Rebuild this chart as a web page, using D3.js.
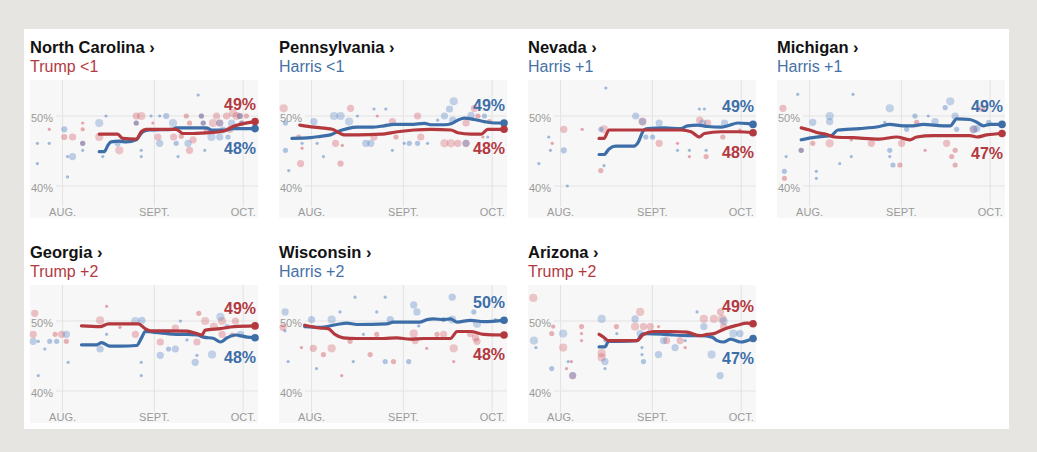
<!DOCTYPE html>
<html><head><meta charset="utf-8">
<script src="https://cdn.jsdelivr.net/npm/d3@7"></script>
<style>
html,body{margin:0;padding:0;background:#e6e5e2;}
svg{display:block;font-family:"Liberation Sans",Arial,sans-serif;}
</style></head>
<body><svg id="chart" width="1037" height="452"></svg>
<script>
// ---------- data ----------
const stateNames = ["North Carolina","Pennsylvania","Nevada","Michigan","Georgia","Wisconsin","Arizona"];
const leadText = ["Trump <1","Harris <1","Harris +1","Harris +1","Trump +2","Harris +2","Trump +2"];
const leadParty = ["R","D","D","D","R","D","R"];
const trumpEndLabels = ["49%","48%","48%","47%","49%","48%","49%"];
const harrisEndLabels = ["48%","49%","49%","49%","48%","50%","47%"];
const xTickLabels = ["AUG.","SEPT.","OCT."];
const xTickDates = ["2024-08-01","2024-09-01","2024-10-01"];
const yTickValues = [40,50];
const yTickLabels = ["40%","50%"];
const baseDate = "2024-08-01"; // day offsets below are days after Aug 1
const xDomain = ["2024-07-21","2024-10-06"];

// polling averages: [day offset, percent]
const ncTrumpAvg = [[12.4,47.4],[18.6,47.4],[20.3,46.8],[24.9,46.7],[26.6,47.75],[28.2,48.1],[38.4,48.1],[40.7,47.5],[42.9,47.5],[48.6,47.6],[53.1,47.75],[55.4,48.0],[57.6,48.5],[61,48.9],[63.3,49.1],[65,49.2]];
const ncHarrisAvg = [[12.4,44.9],[14.1,44.9],[15.3,45.8],[16.4,46.3],[19.2,46.4],[21.5,46.3],[24.9,46.6],[27.1,47.75],[29.4,48.0],[37.3,48.1],[38.4,48.3],[48.6,48.3],[50.3,48.0],[55.4,48.0],[57.6,48.2],[62.1,48.2],[65,48.2]];
const paTrumpAvg = [[-4,48.7],[0.8,48.4],[7.0,48.1],[9.3,47.6],[11,47.3],[15.5,47.3],[23.4,47.4],[29,47.75],[34.7,48.0],[40.3,48.1],[47.1,48.0],[49.4,47.6],[53.9,47.4],[57.3,47.4],[59.5,48.1],[65,48.1]];
const paHarrisAvg = [[-6.6,46.8],[-0.3,46.9],[3.1,47.1],[6.4,47.3],[8.7,47.75],[12.1,48.2],[15.5,48.4],[20,48.4],[24.5,48.6],[27.9,48.8],[33.6,48.8],[38.1,48.95],[40.3,48.75],[44.9,48.75],[47.1,48.9],[49.4,49.4],[51.6,49.7],[55,49.5],[58.4,49.2],[61.8,49.0],[65,49.0]];
const nvTrumpAvg = [[13,46.8],[14.7,46.8],[16.4,48.0],[28.2,48.0],[40.7,48.0],[44.1,47.75],[46.9,47.0],[48.6,47.5],[54.2,47.75],[59.9,47.75],[65,47.6]];
const nvHarrisAvg = [[13,44.5],[14.7,44.5],[16.4,45.3],[18.6,45.7],[24.9,45.7],[26,46.1],[28.2,48.0],[29.4,48.2],[35,48.3],[40.7,48.2],[42.9,48.6],[46.3,48.7],[49.7,48.5],[54.2,48.4],[56.5,48.6],[59.9,49.0],[63.3,48.9],[65,48.8]];
const miTrumpAvg = [[-2.8,48.3],[0,48.0],[2.8,47.6],[5.6,47.4],[8.5,47.0],[14.7,46.9],[23.7,46.7],[29.4,47.0],[33.9,46.6],[36.2,47.0],[41.8,47.2],[48.6,47.2],[54.2,47.2],[56.5,47.0],[59.9,47.3],[65,47.5]];
const miHarrisAvg = [[-2.8,46.6],[1.1,46.9],[4.5,47.1],[7.3,47.2],[9.6,48.0],[16.9,48.2],[23.7,48.5],[27.1,48.8],[31.6,48.6],[34.9,48.6],[38.4,48.8],[45.2,48.6],[47.5,48.6],[49.7,49.6],[54.2,49.5],[56.5,49.1],[58.8,48.6],[61,48.8],[65,48.8]];
const gaTrumpAvg = [[6.4,49.3],[12.7,49.2],[15.5,49.6],[25.6,49.6],[27.9,48.9],[29.6,48.6],[35.3,48.6],[42,48.55],[45.4,48.2],[47.1,48.0],[48.2,48.7],[53.3,48.9],[57.9,49.2],[65,49.3]];
const gaHarrisAvg = [[6.4,46.6],[11.5,46.6],[13.2,46.9],[16,46.4],[19.4,46.4],[25,46.5],[26.8,47.7],[27.9,48.5],[33,48.3],[38.6,48.1],[42,48.1],[45.4,48.0],[47.7,47.7],[51.1,47.5],[53.3,47.0],[55.6,47.6],[58.4,48.0],[62.4,47.7],[65,47.6]];
const wiTrumpAvg = [[-2.3,49.4],[2.8,49.0],[5.6,48.9],[7.9,48.1],[10.7,47.6],[15.3,47.5],[24.3,47.5],[28.8,47.6],[33.3,47.4],[37.9,47.5],[42.4,47.5],[46.9,47.5],[49.2,48.5],[53.7,48.5],[58.2,48.1],[65,48.0]];
const wiHarrisAvg = [[-2.3,49.2],[2.8,49.1],[8.5,49.5],[11.9,49.7],[15.3,49.5],[25.4,49.6],[27.7,49.85],[36.7,49.85],[39,50.2],[41.2,50.3],[44.6,50.2],[46.9,50.3],[49.2,49.85],[53.7,50.1],[58.2,49.9],[65,50.1]];
const azTrumpAvg = [[13,48.1],[14.5,47.7],[16.2,47.2],[20.1,47.2],[25.8,47.2],[28,48.1],[31.4,48.5],[37.1,48.5],[42.7,48.4],[47.2,47.9],[49.5,48.1],[51.8,48.2],[54,48.6],[56.3,49.0],[59.7,49.4],[63,49.7],[65,49.6]];
const azHarrisAvg = [[13,46.3],[15,46.3],[16.2,47.1],[20.1,47.1],[25.8,47.2],[27.5,48.1],[29.2,48.2],[34.8,48.1],[38.2,48.0],[42.7,47.9],[47.2,47.9],[51.2,47.7],[52.9,47.2],[55.1,47.0],[57.4,47.4],[60.8,47.0],[65,47.5]];

// individual polls: [day offset, percent, relative sample weight]
const ncTrumpPolls = [[-4.5,48.1,1],[0.6,47.0,2.5],[3.4,47.0,3],[6.8,49.0,1],[6.8,48.1,1.5],[12.4,47.0,3.5],[19.2,45.1,3.5],[24.9,50,3],[26.6,50,3.5],[30.5,49,1],[32.2,47,3],[37.5,47,3],[40.1,47.1,2],[41.8,50,2],[42.9,49,2],[42.9,45.1,3],[44.1,46.6,3],[48.6,48,2],[50.8,49,3.5],[52,50,3],[55.4,50,3],[56.5,48.1,3],[57.6,50.4,3.5],[58.8,50,3.5],[62.1,50,2],[6.8,46.1,2],[24.9,49,2],[46.9,50,2],[47.5,49,2],[53.1,49,3],[59.9,50,2.5],[60.5,49,2]];
const ncHarrisPolls = [[-8.5,46.1,1],[-8.5,43.2,1],[-4.5,46.1,1],[0.6,48.1,2.5],[1.7,41.3,1],[3.4,44.2,3],[1.7,44.2,1],[6.8,45.1,1],[12.4,49,3.5],[14.7,50,1],[13.6,44.2,1],[18.6,46.1,2.5],[26.6,44.2,1],[26.6,45.1,1],[29.9,50,1],[32.8,50,1],[32.8,46.1,3],[35,50,2.5],[37.3,49,3.5],[38.4,46.1,2],[39,44.2,1],[42.4,46.1,3],[45.8,53,1],[48,45.1,1],[50.3,47,3.5],[54.2,48,3],[55.9,47,2],[57.1,49,3],[53.1,47,3],[6.8,46.1,2],[24.9,49,2],[46.9,50,2],[47.5,49,2],[53.1,49,3],[59.9,50,2.5],[60.5,49,2]];
const paTrumpPolls = [[-9.4,51.1,3.5],[-4.3,47.0,2],[-3.2,45.4,1],[-3.7,43.2,3],[13.2,51.1,3],[9.8,43.2,2.5],[8.1,46.1,3],[10.4,45.8,1],[21.1,47.0,3],[22.2,50,1],[27.3,49.2,3],[35.8,50,3],[28.5,47,2],[44.9,46.1,3.5],[47.1,46.1,3.5],[49.4,46.1,3],[55,51.1,3],[56.2,50,2],[52.2,49,3],[57.9,47,1],[60.1,49.2,2],[36.9,47.0,3],[52.2,46.1,3]];
const paHarrisPolls = [[-8.8,49,2],[-8.8,45.1,2],[-7.7,42.2,1],[0.8,49.2,3],[1.9,46.1,1],[7.6,50,3.5],[9.8,50,3.5],[12.7,49.2,3.5],[15.5,50,1],[21.1,51,1],[20,46.1,3],[18.3,46.1,3],[25.1,51,1],[27.3,45.1,1],[31.3,46.1,1],[33,46.1,2],[35.8,46.1,2],[39.2,46.1,1],[44.9,50,3],[46.6,51,3],[48,52.1,3.5],[47.7,49.4,3],[42.6,49.4,1],[52.2,46.1,3],[53.9,50.1,3],[58.4,50,2],[59.5,47,1],[-3.2,46.1,1],[4,44.2,1]];
const nvTrumpPolls = [[1.1,48.1,3],[7.3,48.1,1],[-2.8,46.1,1],[14.7,48.1,3.5],[13.6,42.2,2],[27.7,49.2,3.5],[33.3,46.1,3],[39.5,46.1,1],[43.5,44.2,1],[47,49.4,3],[49.2,44.2,2],[49.7,49,3],[54.8,47,2],[60.5,48,1]];
const nvHarrisPolls = [[-7.3,43.2,1],[-4,47,1],[-3.4,45.1,1],[1.1,45.1,2.5],[2.3,40.0,1],[15.3,54,1],[13.6,48.1,2],[14.7,42.9,1],[25.4,50,3],[28.8,47,2],[31.1,47,2],[33.3,49,3],[39.5,45.1,1],[43.5,45.1,1],[46.9,51,1],[48.6,51,1],[48,49,3],[49.2,45.1,1],[55.4,49,3],[27.7,49.2,3]];
const miTrumpPolls = [[-9,51.1,3],[-8.5,41.1,2],[1.1,46.1,2],[6.8,46.1,3.5],[14.1,46.6,1],[20.9,46.1,3],[31.1,46.1,3],[36.2,49.1,2],[39,45.1,1],[46.3,46.1,3],[48,44.2,2],[49.2,45.1,2],[49.2,43,2],[58.2,51.1,3],[55.4,48.1,3],[30.5,43,2],[-2.8,45.1,2]];
const miHarrisPolls = [[-8.5,42.1,2],[-7.9,44.2,1],[-4,53.1,1],[1.1,49.1,3],[-2.8,45.1,2],[2.3,42.1,1],[2.3,41.1,1],[6.8,50,3.5],[6.8,49.2,3],[10.2,43.2,1],[14.1,44.2,1],[14.7,53.1,1],[25.4,49.1,1],[27.1,51.1,3.5],[27.1,45.1,2],[27.1,44.2,1],[28.2,43,2],[32.8,48.1,2],[35.6,50,2],[40.1,50,1],[42.4,49.2,3],[45.8,51.2,2],[47.5,52.1,3.5],[49.2,50,3],[49.7,48.1,2],[55.4,48.1,3.5],[56.5,48.2,3],[60.5,49.1,2]];
const gaTrumpPolls = [[-9.4,51.1,3],[-9.9,48.1,3],[-0.3,48.1,3],[-2.5,48.1,2],[12.7,50.1,3.5],[14.9,52.1,1],[19.4,49.1,1],[24.6,48.1,3],[33,47,3],[38.1,49,3],[45.4,47,3],[46,51.1,2],[48.2,50,3.5],[51.1,49.2,3.5],[53.9,50,3.5],[53.9,48.1,3],[57.3,48,2],[58.4,50,3],[1.3,47.1,2]];
const gaHarrisPolls = [[-9.9,47.1,3],[-8.2,47.1,1],[-6,46,1],[-4.3,47.1,2],[-2,47.1,2],[1.3,48.1,3],[1.9,44.1,1],[-8.2,42.2,1],[12.7,46,3],[14.9,48.1,1],[24.6,50,3.5],[26.8,50.1,3],[26.6,44.1,1],[26.6,42.2,1],[33,45.1,3],[35.8,46,2],[38.1,46,3],[39.8,50,1],[42,47.3,1],[44.8,44.1,3],[45.4,45.1,1],[50.5,45.2,3.5],[53.3,50.6,3.5],[55.6,49.2,2],[60.1,48.1,3]];
const wiTrumpPolls = [[-9.6,49.1,3],[-3.4,46.2,1],[0.6,46.1,3],[4,45.2,2],[6.8,46.1,3.5],[10.2,42.2,1],[13,47.1,2],[19.8,45.2,2],[22,48.1,2],[27.7,44.2,2],[34.5,48.2,3.5],[35,47.2,3],[38.9,46.1,1],[42.4,48.1,2],[44.6,48.1,3],[48,46.1,3.5],[48,44.2,1],[53.7,48.2,3],[55.9,47.1,3],[59.3,48.1,1],[55.4,47.6,3]];
const wiHarrisPolls = [[-8.9,51.3,3],[0,50.2,3],[6.8,50.2,3.5],[9.6,51.3,1],[14.7,53.4,1],[17.5,48.1,1],[22,51.3,1],[24.9,53.4,1],[26.6,50.2,3],[34.5,52.3,3],[35.6,51.3,3],[36.2,49.3,1],[44.6,50.2,2],[47.5,53.4,3],[47.5,50.2,3.5],[54.8,51.3,2],[55.9,49.6,3.5],[62.1,50.2,1],[-7.9,44.2,1],[1.7,43.2,1],[14.1,44.2,1],[24.9,44.2,2],[32.8,44.2,2],[-9,48.6,1]];
const azTrumpPolls = [[-9.2,53.3,3.5],[-2.5,49.2,1.5],[-3,48.2,2],[0.9,46.2,3.5],[7.1,49.2,2],[7.1,48.2,1],[7.1,47.2,1],[13.9,45.4,3.5],[13.9,44.8,3.5],[18.9,49.2,2],[25.2,49.2,3.5],[26.9,51.3,3.5],[28,49.2,3],[30.3,49.2,3],[33.1,49.2,1],[35.9,47.2,3],[40.4,47.2,3],[42.1,46.2,1],[48.4,50.3,3.5],[51.8,50.3,3.5],[54,51.3,3],[55.1,49.2,3],[54.6,50.3,3.5],[4.1,42.2,3],[3.7,44.2,1],[2,43.2,1]];
const azHarrisPolls = [[-9,47.2,3.5],[-8.3,46.2,1],[-3,43.2,2],[0.9,48.2,3.5],[2.6,44.2,1],[13.9,50.3,3.5],[15,47.2,1],[15,44.2,3],[15,43.2,1],[19,48.2,1],[25.2,50.3,3],[26.9,48.2,3],[27.5,46.2,1],[27.5,45.2,1],[28,44.2,2],[33.1,45.2,3],[34.8,47.2,3],[38.7,46.2,3],[42.1,47.2,1],[46.1,51.3,1],[48.4,49.2,3],[51,45.2,3.5],[53.9,42.2,3],[55.1,50,3.5],[58.4,48.2,3.5],[60.6,48.2,3],[4.1,42.2,3]];

const trumpAvgs = [ncTrumpAvg,paTrumpAvg,nvTrumpAvg,miTrumpAvg,gaTrumpAvg,wiTrumpAvg,azTrumpAvg];
const harrisAvgs = [ncHarrisAvg,paHarrisAvg,nvHarrisAvg,miHarrisAvg,gaHarrisAvg,wiHarrisAvg,azHarrisAvg];
const trumpPolls = [ncTrumpPolls,paTrumpPolls,nvTrumpPolls,miTrumpPolls,gaTrumpPolls,wiTrumpPolls,azTrumpPolls];
const harrisPolls = [ncHarrisPolls,paHarrisPolls,nvHarrisPolls,miHarrisPolls,gaHarrisPolls,wiHarrisPolls,azHarrisPolls];

// ---------- drawing ----------
const RED = "#b3393f", BLUE = "#3d6ea8";
const RED_TXT = "#b3393f", BLUE_TXT = "#4671a6";
const parse = d3.timeParse("%Y-%m-%d");
const base = parse(baseDate);
const toDate = d => d3.timeHour.offset(base, d * 24);

const svg = d3.select("#chart");
svg.append("rect").attr("x",24).attr("y",29).attr("width",985).attr("height",400).attr("fill","#ffffff");

const colX = [30, 279, 528, 777];
const rowY = [29, 234];
const PW = 228, PH = 138;

const x = d3.scaleTime().domain(xDomain.map(parse)).range([0, PW]);
const y = d3.scaleLinear().domain([40, 50]).range([106, 36]);
const r = d3.scaleLinear().domain([1, 3.5]).range([1.6, 4.1]);
const op = d3.scaleLinear().domain([1, 3.5]).range([0.5, 0.3]);
const line = d3.line().x(d => x(toDate(d[0]))).y(d => y(d[1])).curve(d3.curveMonotoneX);

stateNames.forEach((name, i) => {
  const cx = colX[i % 4], cy = rowY[Math.floor(i / 4)];
  const g = svg.append("g").attr("transform", `translate(${cx},${cy})`);
  g.append("text").attr("x", 0).attr("y", 24).attr("font-size", 16.5).attr("font-weight", 700)
    .attr("fill", "#121212").text(name + " \u203A");
  g.append("text").attr("x", 0).attr("y", 43).attr("font-size", 16)
    .attr("fill", leadParty[i] === "R" ? RED_TXT : BLUE_TXT).text(leadText[i]);

  const p = g.append("g").attr("transform", "translate(0,51)");
  p.append("rect").attr("width", PW).attr("height", PH).attr("fill", "#f7f7f7");

  // gridlines
  p.selectAll(".hg").data(yTickValues).join("line")
    .attr("x1", 26).attr("x2", PW).attr("y1", d => y(d)).attr("y2", d => y(d))
    .attr("stroke", "#e3e3e3").attr("stroke-width", 1);
  p.selectAll(".vg").data(xTickDates).join("line")
    .attr("x1", d => x(parse(d))).attr("x2", d => x(parse(d)))
    .attr("y1", 0).attr("y2", 127).attr("stroke", "#e3e3e3").attr("stroke-width", 1);
  p.selectAll(".yl").data(yTickValues).join("text")
    .attr("x", 1).attr("y", d => y(d) + 6).attr("font-size", 11).attr("fill", "#9a9a9a")
    .text((d, k) => yTickLabels[k]);
  p.selectAll(".xl").data(xTickDates).join("text")
    .attr("x", d => x(parse(d))).attr("y", 135.5).attr("text-anchor", "middle")
    .attr("font-size", 11).attr("fill", "#9a9a9a").text((d, k) => xTickLabels[k]);

  // polls
  const dots = p.append("g");
  dots.selectAll(".dr").data(trumpPolls[i]).join("circle")
    .attr("cx", d => x(toDate(d[0]))).attr("cy", d => y(d[1])).attr("r", d => r(d[2]))
    .attr("fill", "#d0505b").attr("fill-opacity", d => op(d[2]));
  dots.selectAll(".db").data(harrisPolls[i]).join("circle")
    .attr("cx", d => x(toDate(d[0]))).attr("cy", d => y(d[1])).attr("r", d => r(d[2]))
    .attr("fill", "#4a7cc0").attr("fill-opacity", d => op(d[2]));

  // averages
  const series = [
    {data: harrisAvgs[i], color: BLUE, label: harrisEndLabels[i]},
    {data: trumpAvgs[i], color: RED, label: trumpEndLabels[i]}
  ];
  const ends = series.map(s => s.data[s.data.length - 1][1]);
  series.forEach((s, k) => {
    p.append("path").attr("d", line(s.data)).attr("fill", "none")
      .attr("stroke", s.color).attr("stroke-width", 3.2).attr("stroke-linejoin", "round").attr("stroke-linecap", "round");
  });
  series.forEach((s, k) => {
    const last = s.data[s.data.length - 1];
    const ex = x(toDate(last[0])), ey = y(last[1]);
    p.append("circle").attr("cx", ex).attr("cy", ey).attr("r", 3.8).attr("fill", s.color);
    const isTop = ends[k] >= ends[1 - k];
    p.append("text").attr("x", ex + 1).attr("y", isTop ? ey - 12 : ey + 25)
      .attr("text-anchor", "end").attr("font-size", 16).attr("font-weight", 700)
      .attr("fill", s.color).text(s.label);
  });
});
</script></body></html>
